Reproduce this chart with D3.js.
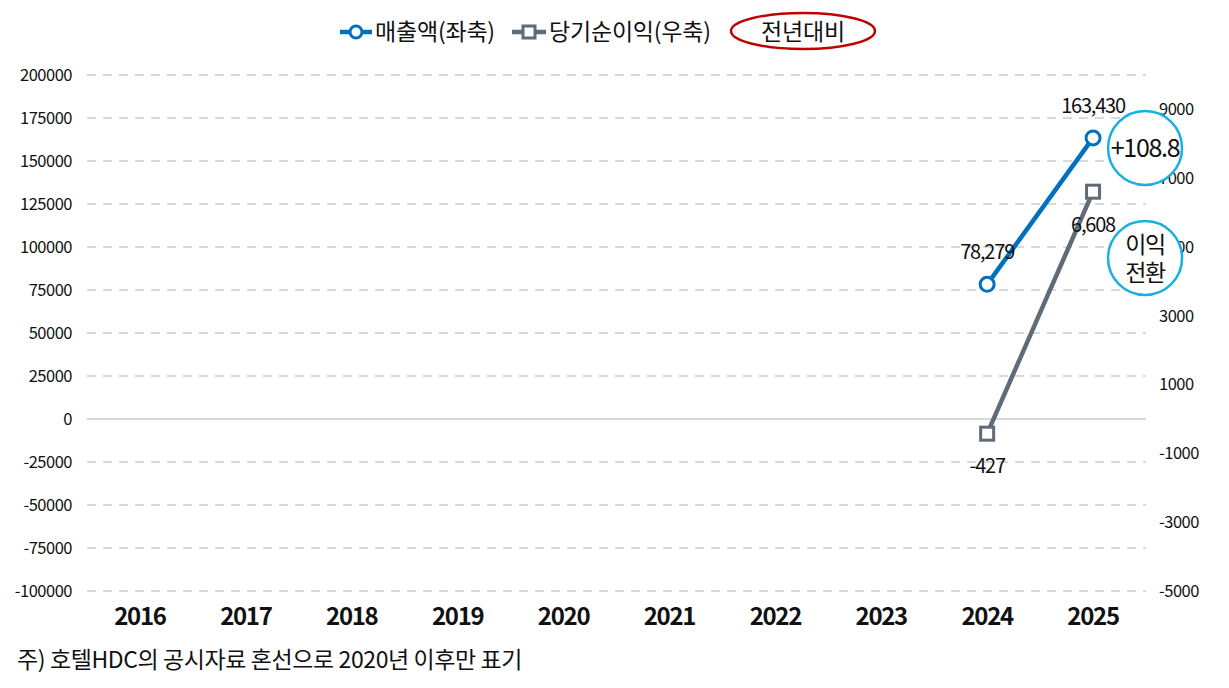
<!DOCTYPE html>
<html>
  <script src="https://cdnjs.cloudflare.com/ajax/libs/d3/7.8.5/d3.min.js"></script>
  <style>
    body { margin: 0; background: #fff; }
    text { font-family: "Noto Sans CJK KR", "Noto Sans", sans-serif; fill: #111; }
  </style>
  <body>
    <svg></svg>
    <script>
var years = ['2016', '2017', '2018', '2019', '2020', '2021', '2022', '2023', '2024', '2025'];
var sales = [null, null, null, null, null, null, null, null, 78279, 163430];
var netIncome = [null, null, null, null, null, null, null, null, -427, 6608];
var leftTicks = [-100000, -75000, -50000, -25000, 0, 25000, 50000, 75000, 100000, 125000, 150000, 175000, 200000];
var rightTicks = [-5000, -3000, -1000, 1000, 3000, 5000, 7000, 9000];
var notes = [{ label: '+108.8', yr: '2025', v: 148 }, { label: '이익|전환', yr: '2025', v: 258 }];

var W = 1229, H = 688;
var svg = d3.select('svg').attr('width', W).attr('height', H);

var x = d3.scaleBand().domain(years).range([87, 1146]);
var yL = d3.scaleLinear().domain([-100000, 200000]).range([591, 75]);
var yR = d3.scaleLinear().domain([-5000, 10000]).range([591, 75]);

// grid
svg.append('g').selectAll('line').data(leftTicks).enter().append('line')
  .attr('x1', 87).attr('x2', 1146)
  .attr('y1', d => yL(d)).attr('y2', d => yL(d))
  .style('stroke', '#d9d9d9').style('stroke-width', 2)
  .style('stroke-dasharray', d => d === 0 ? null : '9,7');

// left axis
svg.append('g').attr('transform', 'translate(87,0)')
  .call(d3.axisLeft(yL).tickValues(leftTicks).tickSize(0).tickPadding(15).tickFormat(d => d))
  .call(g => g.select('.domain').remove())
  .selectAll('text').style('font-size', '16.5px').style('letter-spacing', '-0.5px')
  .style('font-family', '"Noto Sans CJK KR", sans-serif').style('fill', '#111');

// right axis
svg.append('g').attr('transform', 'translate(1146,0)')
  .call(d3.axisRight(yR).tickValues(rightTicks).tickSize(0).tickPadding(13).tickFormat(d => d))
  .call(g => g.select('.domain').remove())
  .selectAll('text').style('font-size', '16.5px').style('letter-spacing', '-0.5px')
  .style('font-family', '"Noto Sans CJK KR", sans-serif').style('fill', '#111');

// x axis
svg.append('g').attr('transform', 'translate(0,591)')
  .call(d3.axisBottom(x).tickSize(0).tickPadding(17))
  .call(g => g.select('.domain').remove())
  .selectAll('text').style('font-size', '24px').style('font-weight', 'bold').style('letter-spacing', '-1.3px')
  .style('font-family', '"Noto Sans CJK KR", sans-serif').style('fill', '#111');

var cx = d => x(d) + x.bandwidth() / 2;
var salesPts = years.map((d, i) => ({ yr: d, v: sales[i] })).filter(d => d.v !== null);
var netPts = years.map((d, i) => ({ yr: d, v: netIncome[i] })).filter(d => d.v !== null);

// net income line (right axis)
svg.append('path').datum(netPts)
  .attr('d', d3.line().x(d => cx(d.yr)).y(d => yR(d.v)))
  .style('fill', 'none').style('stroke', '#606b78').style('stroke-width', 4.5);
svg.append('g').selectAll('rect').data(netPts).enter().append('rect')
  .attr('x', d => cx(d.yr) - 6.5).attr('y', d => yR(d.v) - 6.5)
  .attr('width', 13).attr('height', 13)
  .style('fill', '#fff').style('stroke', '#606b78').style('stroke-width', 3);

// sales line (left axis)
svg.append('path').datum(salesPts)
  .attr('d', d3.line().x(d => cx(d.yr)).y(d => yL(d.v)))
  .style('fill', 'none').style('stroke', '#0070c0').style('stroke-width', 4.5);
svg.append('g').selectAll('circle').data(salesPts).enter().append('circle')
  .attr('cx', d => cx(d.yr)).attr('cy', d => yL(d.v)).attr('r', 7)
  .style('fill', '#fff').style('stroke', '#0070c0').style('stroke-width', 3);

// data labels
var fmt = d3.format(',');
svg.append('g').selectAll('text').data(salesPts).enter().append('text')
  .attr('x', d => cx(d.yr)).attr('y', d => yL(d.v) - 25)
  .attr('text-anchor', 'middle').style('font-size', '20px').style('letter-spacing', '-1.2px')
  .text(d => fmt(d.v));
svg.append('g').selectAll('text').data(netPts).enter().append('text')
  .attr('x', d => cx(d.yr)).attr('y', d => d.v < 0 ? yR(d.v) + 39 : yR(d.v) + 40)
  .attr('text-anchor', 'middle').style('font-size', '20px').style('letter-spacing', '-1.2px')
  .text(d => fmt(d.v).replace('−', '-'));

// annotation bubbles
var nb = svg.append('g').selectAll('g').data(notes).enter().append('g')
  .attr('transform', d => `translate(${cx(d.yr) + 52},${d.v})`);
nb.append('circle').attr('r', 37)
  .style('fill', '#fff').style('stroke', '#17b0e0').style('stroke-width', 2.5);
nb.each(function(d) {
  var parts = d.label.split('|');
  var t = d3.select(this).append('text').attr('text-anchor', 'middle')
    .style('font-size', parts.length > 1 ? '23px' : '25px').style('letter-spacing', '-1.3px');
  parts.forEach((p, i) => {
    t.append('tspan').attr('x', 0)
      .attr('y', (i - (parts.length - 1) / 2) * 28 + 9).text(p);
  });
});

// legend
var lg = svg.append('g');
lg.append('line').attr('x1', 340).attr('x2', 372).attr('y1', 32).attr('y2', 32)
  .style('stroke', '#0070c0').style('stroke-width', 4.5);
lg.append('circle').attr('cx', 356).attr('cy', 32).attr('r', 6)
  .style('fill', '#fff').style('stroke', '#0070c0').style('stroke-width', 3);
lg.append('text').attr('x', 375).attr('y', 40).style('font-size', '23px').style('letter-spacing', '-0.2px').text('매출액(좌축)');
lg.append('line').attr('x1', 512).attr('x2', 546).attr('y1', 32).attr('y2', 32)
  .style('stroke', '#606b78').style('stroke-width', 4.5);
lg.append('rect').attr('x', 523).attr('y', 26).attr('width', 12).attr('height', 12)
  .style('fill', '#fff').style('stroke', '#606b78').style('stroke-width', 3);
lg.append('text').attr('x', 549).attr('y', 40).style('font-size', '23px').style('letter-spacing', '-0.2px').text('당기순이익(우축)');
lg.append('ellipse').attr('cx', 803).attr('cy', 31).attr('rx', 72).attr('ry', 18)
  .style('fill', 'none').style('stroke', '#c00000').style('stroke-width', 2.5);
lg.append('text').attr('x', 803).attr('y', 40).attr('text-anchor', 'middle')
  .style('font-size', '23px').style('letter-spacing', '-0.2px').text('전년대비');

// footnote
svg.append('text').attr('x', 17).attr('y', 668)
  .style('font-size', '23px').style('letter-spacing', '-0.4px')
  .text('주) 호텔HDC의 공시자료 혼선으로 2020년 이후만 표기');
    </script>
  </body>
</html>
